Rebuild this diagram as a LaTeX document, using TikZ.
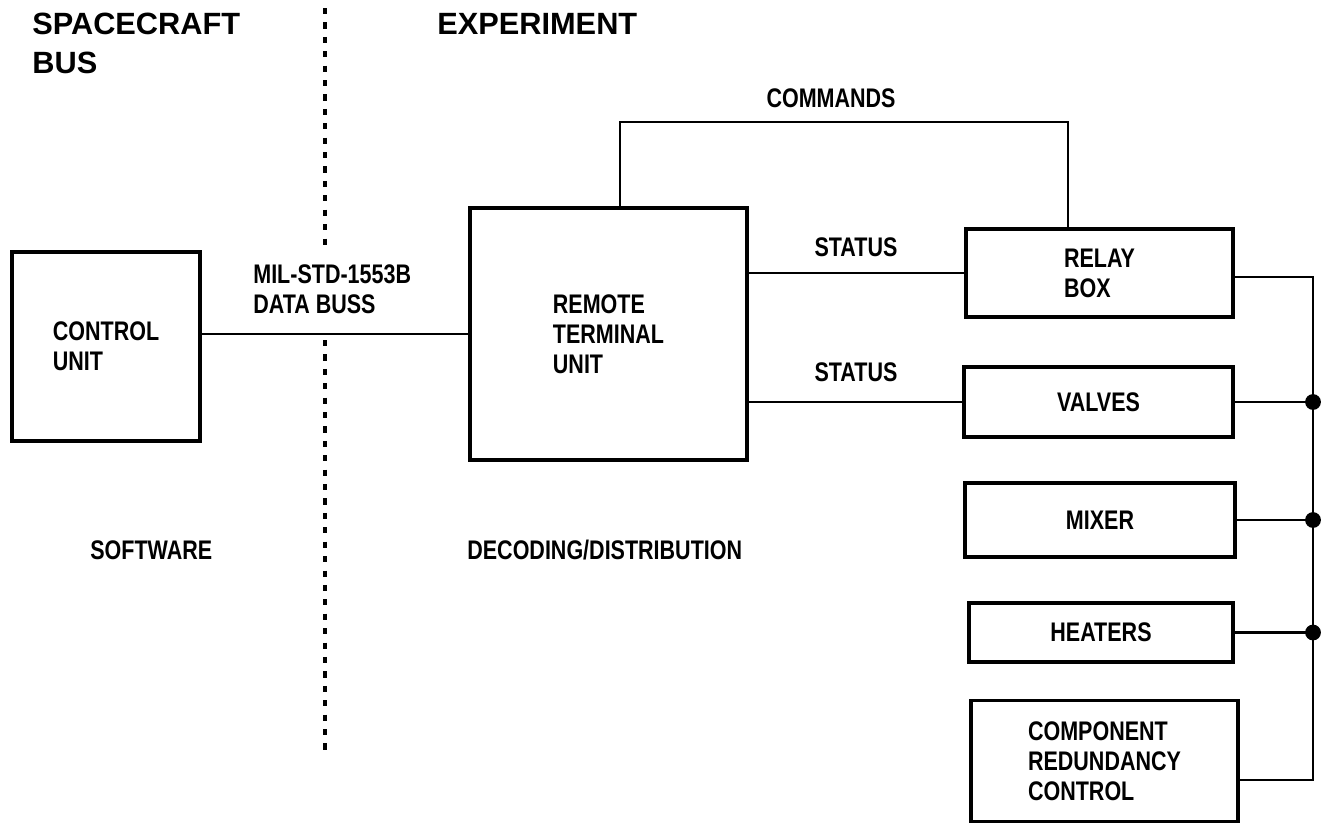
\documentclass[tikz,border=0pt]{standalone}
\usepackage{fontspec}
\setmainfont{Liberation Sans}[FakeStretch=0.8]
\newfontfamily\headfont{Liberation Sans}

\begin{document}
\begin{tikzpicture}[x=0.02cm, y=-0.02cm,
	blk/.style={draw, line width=2pt, inner sep=0pt, align=left, font=\fontsize{15.3}{17}\selectfont\bfseries},
	lbl/.style={inner sep=0pt, align=left, anchor=west, font=\fontsize{15.3}{17}\selectfont\bfseries},
	head/.style={inner sep=0pt, align=left, anchor=north west, font=\headfont\fontsize{17.5}{22}\selectfont\bfseries},
	wire/.style={line width=1.6pt},
	divider/.style={line width=2pt, dash pattern=on 3.5pt off 4.7pt},
	tap/.style={circle, fill, inner sep=0pt, minimum size=9pt}]

	\useasboundingbox (0,0) rectangle (1321,826);

	% Headings and divider
	\node[head] (sc) at (32,13) {SPACECRAFT\\BUS};
	\node[head] (exp) at (437,13) {EXPERIMENT};
	\draw[divider] (325,8) -- (325,252);
	\draw[divider] (325,340) -- (325,755);

	% Blocks
	\node[blk, minimum width=3.76cm, minimum height=3.78cm] (ctrl) at (106,346.5) {CONTROL\\UNIT};
	\node[blk, minimum width=5.54cm, minimum height=5.04cm] (rtu) at (608.5,334) {REMOTE\\TERMINAL\\UNIT};
	\node[blk, minimum width=5.34cm, minimum height=1.76cm] (relay) at (1099.5,273) {RELAY\\BOX};
	\node[blk, minimum width=5.38cm, minimum height=1.40cm] (valves) at (1098.5,402) {VALVES};
	\node[blk, minimum width=5.40cm, minimum height=1.48cm] (mixer) at (1100,520) {MIXER};
	\node[blk, minimum width=5.28cm, minimum height=1.18cm] (heat) at (1101,632.5) {HEATERS};
	\node[blk, minimum width=5.34cm, minimum height=2.42cm] (crc) at (1104.5,761) {COMPONENT\\REDUNDANCY\\CONTROL};

	% Labels
	\node[lbl] (bus) at (253,289) {MIL-STD-1553B\\DATA BUSS};
	\node[lbl] (sw) at (90,550) {SOFTWARE};
	\node[lbl] (dec) at (467,550) {DECODING/DISTRIBUTION};
	\node[lbl, anchor=center] (cmd) at (831,98) {COMMANDS};
	\node[lbl, anchor=center] (st1) at (856,247) {STATUS};
	\node[lbl, anchor=center] (st2) at (856,372) {STATUS};

	% Connections
	\coordinate (cmdL) at (620,122);
	\coordinate (cmdR) at (1068,122);
	\coordinate (busT) at (1313,277);
	\coordinate (busB) at (1313,780);
	\draw[wire] (ctrl.east |- rtu.west) -- (rtu.west);
	\draw[wire] (rtu.north -| cmdL) -- (cmdL) -- (cmdR) -- (relay.north -| cmdR);
	\draw[wire] (relay.west -| rtu.east) -- (relay.west);
	\draw[wire] (valves.west -| rtu.east) -- (valves.west);
	\draw[wire] (relay.east |- busT) -- (busT) -- (busB) -- (busB -| crc.east);
	\draw[wire] (valves.east) -- (valves.east -| busT) node[tap] (t1) {};
	\draw[wire] (mixer.east) -- (mixer.east -| busT) node[tap] (t2) {};
	\draw[wire] (heat.east) -- (heat.east -| busT) node[tap] (t3) {};

\end{tikzpicture}
\end{document}
